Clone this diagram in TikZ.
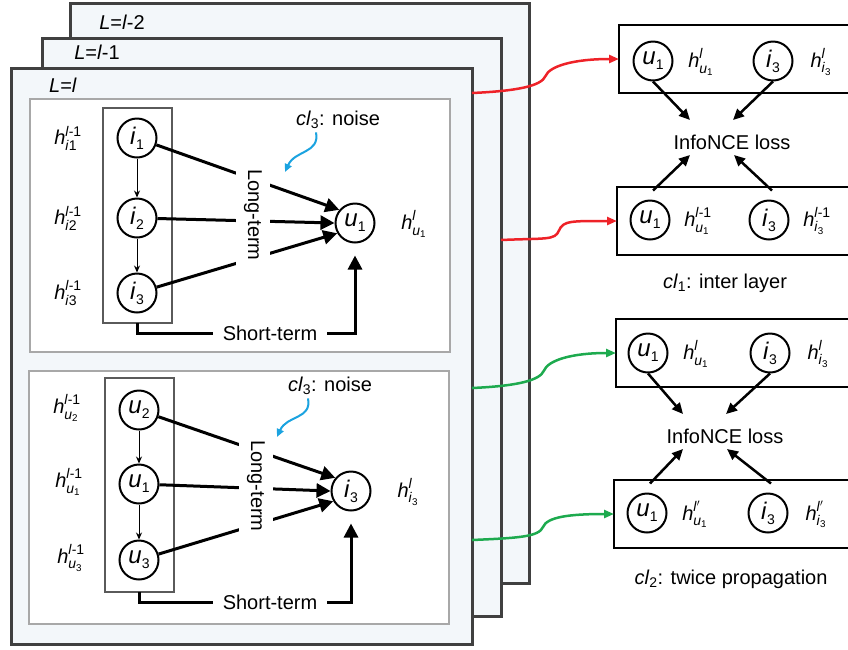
\documentclass[tikz,border=0pt]{standalone}
\usepackage{amsmath}
\usepackage{fontspec}
\setmainfont{Liberation Sans}
\usetikzlibrary{arrows.meta,calc}

\definecolor{layerfill}{HTML}{F3F7FA}
\definecolor{layerdraw}{HTML}{404040}
\definecolor{panelgray}{HTML}{A8A8A8}
\definecolor{colgray}{HTML}{5A5A5A}
\definecolor{noiseblue}{HTML}{1BA3E0}
\definecolor{linkred}{HTML}{EE2228}
\definecolor{linkgreen}{HTML}{1DAA4E}

\newcommand{\hlab}[2]{$\textit{h}^{\text{#1}}_{\text{#2}}$}
\newcommand{\cl}[1]{\textit{cl}\textsubscript{#1}}
\newcommand{\vlab}[2]{{\fontsize{24}{24}\selectfont\textit{#1}}\raisebox{-5pt}{\fontsize{14}{14}\selectfont #2}}

\tikzset{
  layer/.style={draw=layerdraw, line width=3pt, fill=layerfill, anchor=north west, outer sep=0pt, inner sep=0pt},
  panel/.style={draw=panelgray, line width=1.5pt, fill=white},
  colbox/.style={draw=colgray, line width=2pt, anchor=north west, outer sep=0pt, inner sep=0pt, minimum width=69pt},
  vtx/.style={circle, draw, line width=2pt, fill=white, minimum size=39pt, inner sep=0pt},
  pairbox/.style={draw, line width=2.5pt, anchor=north west, outer sep=0pt, inner sep=0pt, minimum width=260pt, minimum height=68pt},
  seqarr/.style={-{Stealth[length=7pt,width=6pt]}, line width=1pt},
  bigarr/.style={-{Triangle[length=14pt,width=14pt]}, line width=3pt},
  lossarr/.style={-{Triangle[length=11pt,width=10pt]}, line width=2.5pt},
  noisearr/.style={-{Triangle[length=8pt,width=7pt]}, line width=2pt, noiseblue},
  link/.style={-{Triangle[length=10pt,width=8pt]}, line width=2.5pt, draw=#1},
  termlbl/.style={rotate=-90, fill=white, inner sep=8pt},
}

\begin{document}
\begin{tikzpicture}[x=1pt, y=-1pt, font=\fontsize{20}{24}\selectfont]
    \useasboundingbox (0,0) rectangle (848,649);
    \clip (0,0) rectangle (848,649);
    % stacked layers, back to front
    \foreach \nm/\fx/\fy/\fw/\fh/\lx/\ly/\lab in {
        layA/70/3/459/580/122/22/{\textit{L}=\textit{l}-2},
        layB/42/38/459/578/97/52/{\textit{L}=\textit{l}-1},
        layC/11/68/461/576/63/85/{\textit{L}=\textit{l}}} {
        \node[layer, minimum width=\fw pt, minimum height=\fh pt] (\nm) at (\fx,\fy) {};
        \node (\nm-lab) at (\lx,\ly) {\lab};
    }
    \draw[panel] (30,99) rectangle (450,352);
    \draw[panel] (29,371) rectangle (449,624);

    % upper panel: items -> user
    \node[colbox, minimum height=215pt] (colA) at (103,108) {};
    \foreach \nm/\y/\k in {iA1/138/1, iA2/218/2, iA3/293/3} {
        \node[vtx] (\nm) at (137,\y) {\vlab{i}{\k}};
        \node (h\nm) at (68,\y) {\hlab{\textit{l}-1}{\textit{i}\k}};
    }
    \node[vtx] (uA) at (355,223) {\vlab{u}{1}};
    \node (huA) at (414,224) {\hlab{\textit{l}}{\textit{u}\textsubscript{1}}};
    \foreach \a/\b in {iA1/iA2, iA2/iA3} \draw[seqarr] (\a) -- (\b);
    \foreach \a/\t in {iA1/140, iA2/180, iA3/-150} \draw[bigarr] (\a) -- (uA.\t);
    \node[termlbl] (ltA) at (253,215) {Long-term};
    \node[inner xsep=10pt] (stA) at (270,333) {Short-term};
    \draw[line width=3pt] (colA.south) |- (stA.west);
    \draw[bigarr] (stA.east) -| ([yshift=-12pt]uA.south);
    \node (nzA) at (338,120) {\cl{3}: noise};
    \coordinate (nzAtip) at (285,172);
    \draw[noisearr] ([xshift=-22pt]nzA.south) .. controls +(4,21) and +(10,-22) .. (nzAtip);

    % lower panel: users -> item
    \node[colbox, minimum height=214pt] (colB) at (105,378) {};
    \foreach \nm/\y/\k/\hx in {uB2/410/2/67, uB1/484/1/69, uB3/560/3/71} {
        \node[vtx] (\nm) at (139,\y) {\vlab{u}{\k}};
        \node (h\nm) at (\hx,\y-2) {\hlab{\textit{l}-1}{\textit{u}\textsubscript{\k}}};
    }
    \node[vtx] (iB) at (351,491) {\vlab{i}{3}};
    \node (hiB) at (408,492) {\hlab{\textit{l}}{\textit{i}\textsubscript{3}}};
    \foreach \a/\b in {uB2/uB1, uB1/uB3} \draw[seqarr] (\a) -- (\b);
    \foreach \a/\t in {uB2/140, uB1/180, uB3/-150} \draw[bigarr] (\a) -- (iB.\t);
    \node[termlbl] (ltB) at (256,486) {Long-term};
    \node[inner xsep=10pt] (stB) at (270,602) {Short-term};
    \draw[line width=3pt] (colB.south) |- (stB.west);
    \draw[bigarr] (stB.east) -| ([yshift=-12pt]iB.south);
    \node (nzB) at (330,386) {\cl{3}: noise};
    \coordinate (nzBtip) at (277,437);
    \draw[noisearr] ([xshift=-22pt]nzB.south) .. controls +(4,21) and +(10,-22) .. (nzBtip);

    % contrastive pairs
    \foreach \k/\bx/\by/\cy/\ux/\ix/\hs in {
        1/619/25/61/653/773/{\textit{l}},
        2/617/187/220/650/769/{\textit{l}-1},
        3/616/319/353/648/770/{\textit{l}},
        4/614/480/513/647/768/{\textit{l}$'$}} {
        \node[pairbox] (pbox\k) at (\bx,\by) {};
        \node[vtx] (pu\k) at (\ux,\cy) {\vlab{u}{1}};
        \node[vtx] (pi\k) at (\ix,\cy) {\vlab{i}{3}};
        \node (hpu\k) at (\ux+48,\cy+1) {\hlab{\hs}{\textit{u}\textsubscript{1}}};
        \node (hpi\k) at (\ix+48,\cy+1) {\hlab{\hs}{\textit{i}\textsubscript{3}}};
    }
    \node (infoR) at (732,142) {InfoNCE loss};
    \node (infoG) at (725,436) {InfoNCE loss};
    \foreach \inf/\a/\b in {infoR/1/2, infoG/3/4} {
        \draw[lossarr] (pu\a.south) -- ([shift={(-42,-22)}]\inf.center);
        \draw[lossarr] (pi\a.south) -- ([shift={(1,-22)}]\inf.center);
        \draw[lossarr] ([shift={(3,-9)}]pu\b.north) -- ([shift={(-42,13)}]\inf.center);
        \draw[lossarr] ([shift={(3,-9)}]pi\b.north) -- ([shift={(2,13)}]\inf.center);
    }
    \node (capR) at (725,283) {\cl{1}: inter layer};
    \node (capG) at (731,579) {\cl{2}: twice propagation};

    % layer outputs -> pairs
    \coordinate (rs1) at (layC.east |- 0,93);
    \coordinate (rs2) at (layB.east |- 0,240);
    \coordinate (gs1) at (layC.east |- 0,388);
    \coordinate (gs2) at (layC.east |- 0,540);
    \foreach \s/\b/\c in {rs1/pbox1/linkred, rs2/pbox2/linkred, gs1/pbox3/linkgreen, gs2/pbox4/linkgreen}
        \draw[link=\c] (\s) .. controls +(45,-2) and +(-4,10) .. ($(\s)!.5!(\b.west)$)
            .. controls +(4,-10) and +(-45,0) .. (\b.west);
\end{tikzpicture}
\end{document}
